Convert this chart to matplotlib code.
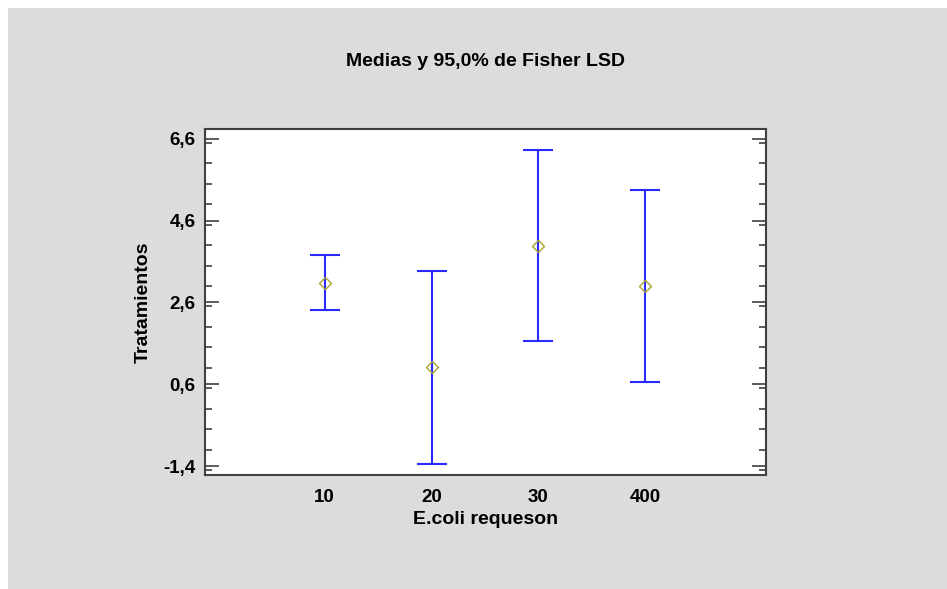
import numpy as np
import matplotlib.pyplot as plt
from matplotlib.patches import Rectangle
from matplotlib.ticker import MultipleLocator

# data
groups = ['10', '20', '30', '400']
means = [3.08, 1.02, 3.99, 3.00]
lower = [2.42, -1.36, 1.65, 0.66]
upper = [3.75, 3.36, 6.33, 5.34]
yticks = [-1.4, 0.6, 2.6, 4.6, 6.6]
ytick_labels = ['-1,4', '0,6', '2,6', '4,6', '6,6']

plt.rcParams['font.family'] = ['Liberation Sans', 'DejaVu Sans']
plt.rcParams['font.weight'] = 'bold'

W, H = 947, 589
fig = plt.figure(figsize=(W / 100, H / 100), dpi=100)
fig.patch.set_facecolor('white')
# gray panel (white strip on top/left like the screenshot)
fig.patches.append(Rectangle((8 / W, 0), 1 - 8 / W, 1 - 8 / H, transform=fig.transFigure,
                             facecolor='#dcdcdc', edgecolor='none', zorder=-5))

ax = fig.add_axes([205 / W, 1 - 475 / H, (766 - 205) / W, (475 - 129) / H])
ax.set_facecolor('white')

x = np.arange(len(groups))
m = np.array(means)
err = np.array([m - np.array(lower), np.array(upper) - m])
ax.errorbar(x, m, yerr=err, fmt='none', ecolor='#2a2aff', elinewidth=1.5,
            capsize=11, capthick=1.5, zorder=2)
ax.plot(x, m, 'D', ms=6, mfc='none', mec='#a8a030', mew=1.0, zorder=3)

ax.set_xlim(-1.12, 3 + 1.13)
ax.set_ylim(-1.62, 6.84)
ax.set_xticks(x)
ax.set_xticklabels(groups)
ax.set_yticks(yticks)
ax.set_yticklabels(ytick_labels)
ax.yaxis.set_minor_locator(MultipleLocator(0.5))
ax.tick_params(axis='x', length=0, pad=10, labelsize=13.5)
ax.tick_params(axis='y', which='major', direction='in', length=10, width=1.2,
               color='#404040', left=True, right=True, labelsize=13.5, pad=7)
ax.tick_params(axis='y', which='minor', direction='in', length=5, width=1.2,
               color='#404040', left=True, right=True)
for s in ax.spines.values():
    s.set_linewidth(1.5)
    s.set_color('#404040')

ax.set_xlabel('E.coli requeson', fontsize=14, fontweight='bold', labelpad=4)
ax.set_ylabel('Tratamientos', fontsize=14, fontweight='bold', labelpad=8)
fig.text((205 + 766) / 2 / W, 1 - 62 / H, 'Medias y 95,0% de Fisher LSD',
         ha='center', va='center', fontsize=14, fontweight='bold')

fig.savefig('out.png', dpi=100)
